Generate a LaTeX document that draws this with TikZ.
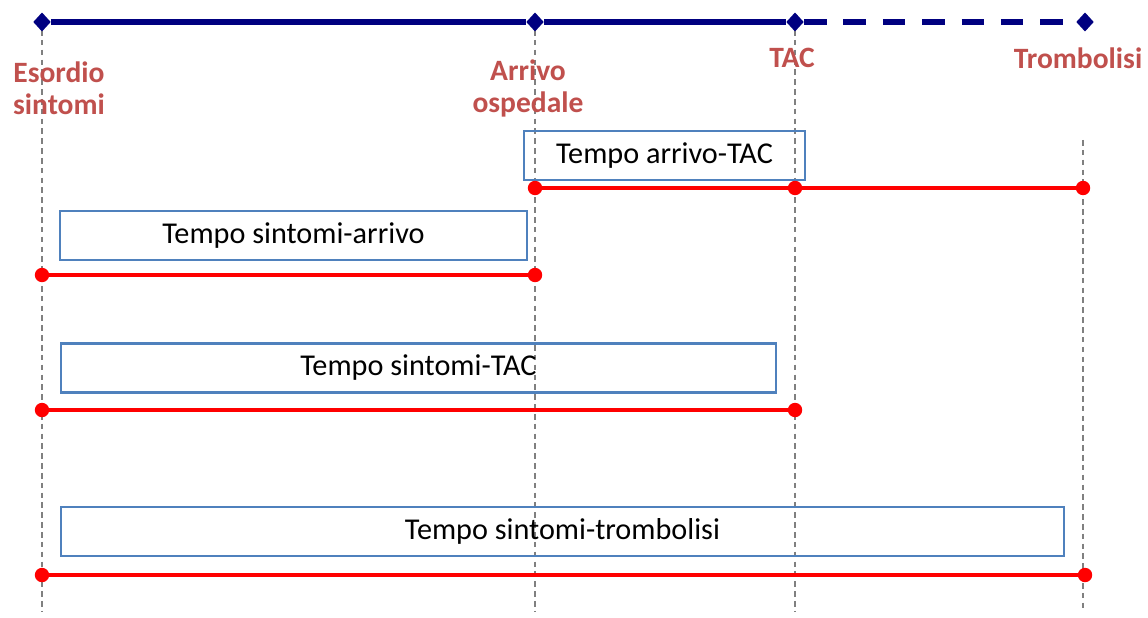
\documentclass[tikz,border=0pt]{standalone}
\usepackage{fontspec}
\setmainfont{Carlito}
\usetikzlibrary{shapes.geometric}
\definecolor{navyline}{RGB}{0,0,128}
\definecolor{eventred}{RGB}{192,80,77}
\definecolor{boxblue}{RGB}{79,129,189}
\tikzset{
  milestone/.style={diamond, fill=navyline, inner sep=0pt, minimum width=0.44cm, minimum height=0.48cm},
  eventdot/.style={circle, fill=red, inner sep=0pt, minimum size=0.36cm},
  periodbox/.style={draw=boxblue, line width=1.9pt, minimum height=1.225cm, inner sep=0pt, font=\fontsize{21.5}{23}\selectfont},
  eventlabel/.style={align=center, text=eventred, font=\fontsize{21}{22.8}\selectfont\bfseries},
  guide/.style={gray, line width=0.9pt, dash pattern=on 4pt off 3pt},
  periodline/.style={red, line width=3.5pt}
}
\begin{document}
\begin{tikzpicture}[x=0.025cm, y=-0.025cm]
  \useasboundingbox (0,0) rectangle (1148,617);
  % Guide lines
  \foreach \n/\x/\t in {esordio/42/30, arrivo/535/30, tac/795/30, tromb/1083/140} {
    \coordinate (top\n) at (\x,\t);
    \coordinate (bot\n) at (\x,612);
    \draw[guide] (top\n) -- (bot\n);
  }
  % Time axis
  \node[milestone] (mesordio) at (42,22) {};
  \node[milestone] (marrivo) at (535,22) {};
  \node[milestone] (mtac) at (795,22) {};
  \node[milestone] (mtromb) at (1085,22) {};
  \draw[navyline, line width=4.5pt] (mesordio) -- (marrivo) -- (mtac);
  \draw[navyline, line width=4.5pt, dash pattern=on 16pt off 12pt] (mtac.east) -- (mtromb);
  % Event labels
  \node[eventlabel] (lesordio) at (59,88) {Esordio\\sintomi};
  \node[eventlabel] (larrivo) at (528,88) {Arrivo\\ospedale};
  \node[eventlabel] (ltac) at (792,58) {TAC};
  \node[eventlabel] (ltromb) at (1078,58) {Trombolisi};
  % Tempo arrivo-TAC
  \node[periodbox, minimum width=7.025cm] (barrivotac) at (664.5,155.5) {Tempo arrivo-TAC};
  \node[eventdot] (p1a) at (535,188) {};
  \node[eventdot] (p1b) at (795,188) {};
  \node[eventdot] (p1c) at (1083,188) {};
  \draw[periodline] (p1a) -- (p1b) -- (p1c);
  % Tempo sintomi-arrivo
  \node[periodbox, minimum width=11.675cm] (bsintarrivo) at (293.5,235.5) {Tempo sintomi-arrivo};
  \node[eventdot] (p2a) at (42,275) {};
  \node[eventdot] (p2b) at (535,275) {};
  \draw[periodline] (p2a) -- (p2b);
  % Tempo sintomi-TAC
  \node[periodbox, minimum width=17.875cm] (bsinttac) at (418.5,368) {Tempo sintomi-TAC};
  \node[eventdot] (p3a) at (42,410) {};
  \node[eventdot] (p3b) at (795,410) {};
  \draw[periodline] (p3a) -- (p3b);
  % Tempo sintomi-trombolisi
  \node[periodbox, minimum width=25.075cm] (bsinttromb) at (562.5,531.5) {Tempo sintomi-trombolisi};
  \node[eventdot] (p4a) at (42,575) {};
  \node[eventdot] (p4b) at (1085,575) {};
  \draw[periodline] (p4a) -- (p4b);
\end{tikzpicture}
\end{document}
